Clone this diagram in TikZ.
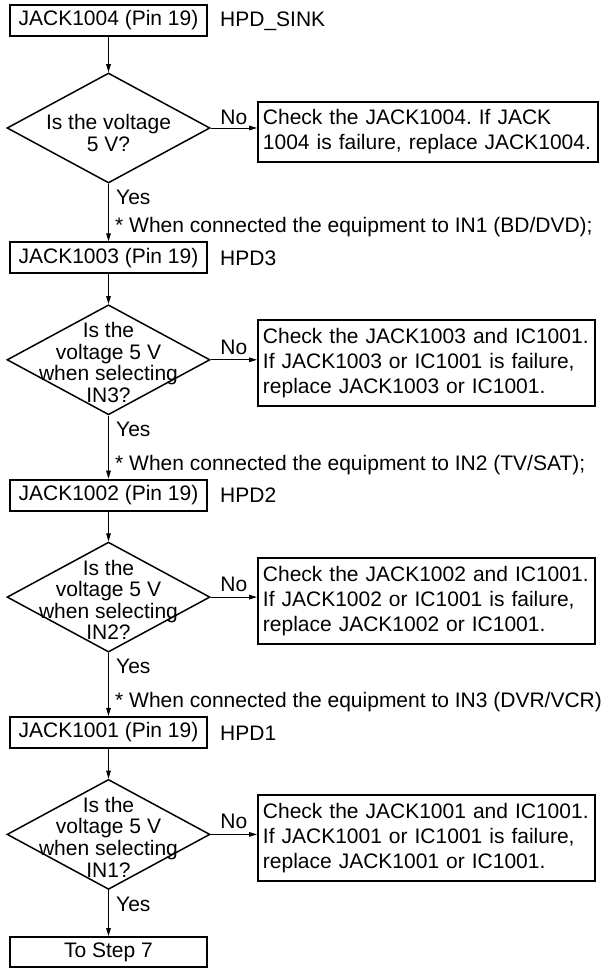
\documentclass[tikz,border=0pt]{standalone}
\usepackage{fontspec}
\setmainfont{Liberation Sans}
\usetikzlibrary{arrows.meta,positioning,shapes.geometric}
\frenchspacing

\begin{document}
\begin{tikzpicture}[x=1pt,y=-1pt,
    every node/.style={font=\fontsize{21}{25}\selectfont},
    jackbox/.style={draw,line width=1.9pt,minimum width=197pt,minimum height=31pt,inner sep=0pt},
    askshape/.style={diamond,draw,line width=1.5pt,minimum width=203pt,minimum height=110pt,inner sep=0pt},
    asktext/.style={align=center,inner sep=0pt,font=\fontsize{21}{21.6}\selectfont},
    checkbox/.style={draw,line width=1.9pt,anchor=west,align=left,inner xsep=5pt,inner ysep=0pt},
    tag/.style={anchor=west,inner sep=0pt},
    flow/.style={-{Triangle[length=8pt,width=4.6pt]},line width=0.9pt}]
    \useasboundingbox (0,0) rectangle (613,968);

    % HPD_SINK
    \node[jackbox] (j1) at (108.5,20.5) {JACK1004 (Pin 19)};
    \node[tag] (h1) at (220,21) {HPD\_SINK};
    \node[askshape] (d1) at (108.5,128) {};
    \node[asktext] (q1) at (108.5,133) {Is the voltage\\5 V?};
    \node[checkbox,text width=330pt,minimum height=60pt] (c1) at (257,132) {Check the JACK1004. If JACK\\1004 is failure, replace JACK1004.};
    \node[tag] (y1) at (116,197) {Yes};
    \node[tag] (n1) at (115,227.3) {* When connected the equipment to IN1 (BD/DVD);};

    % HPD3
    \node[jackbox] (j2) at (108.5,257.8) {JACK1003 (Pin 19)};
    \node[tag] (h2) at (220,258.3) {HPD3};
    \node[askshape] (d2) at (108.5,359.8) {};
    \node[asktext] (q2) at (108.5,362.5) {Is the\\voltage 5 V\\when selecting\\IN3?};
    \node[checkbox,text width=327pt,minimum height=86pt] (c2) at (257,363.3) {Check the JACK1003 and IC1001.\\If JACK1003 or IC1001 is failure,\\replace JACK1003 or IC1001.};
    \node[tag] (y2) at (116,429.5) {Yes};
    \node[tag] (n2) at (115,464.6) {* When connected the equipment to IN2 (TV/SAT);};

    % HPD2
    \node[jackbox] (j3) at (108.5,495.1) {JACK1002 (Pin 19)};
    \node[tag] (h3) at (220,495.6) {HPD2};
    \node[askshape] (d3) at (108.5,597.1) {};
    \node[asktext] (q3) at (108.5,599.8) {Is the\\voltage 5 V\\when selecting\\IN2?};
    \node[checkbox,text width=327pt,minimum height=86pt] (c3) at (257,600.6) {Check the JACK1002 and IC1001.\\If JACK1002 or IC1001 is failure,\\replace JACK1002 or IC1001.};
    \node[tag] (y3) at (116,666.8) {Yes};
    \node[tag] (n3) at (115,701.9) {* When connected the equipment to IN3 (DVR/VCR)};

    % HPD1
    \node[jackbox] (j4) at (108.5,732.4) {JACK1001 (Pin 19)};
    \node[tag] (h4) at (220,732.9) {HPD1};
    \node[askshape] (d4) at (108.5,834.4) {};
    \node[asktext] (q4) at (108.5,837.1) {Is the\\voltage 5 V\\when selecting\\IN1?};
    \node[checkbox,text width=327pt,minimum height=86pt] (c4) at (257,837.9) {Check the JACK1001 and IC1001.\\If JACK1001 or IC1001 is failure,\\replace JACK1001 or IC1001.};
    \node[tag] (y4) at (116,904.1) {Yes};
    \node[jackbox,minimum height=30pt] (s7) at (108.5,952) {To Step 7};

    % connectors
    \draw[flow] (j1.south) -- (d1.north);
    \draw[flow] (d1.east) -- node[above,inner sep=2.5pt] {No} (d1.east -| c1.west);
    \draw[flow] (d1.south) -- (j2.north);
    \draw[flow] (j2.south) -- (d2.north);
    \draw[flow] (d2.east) -- node[above,inner sep=5pt] {No} (d2.east -| c2.west);
    \draw[flow] (d2.south) -- (j3.north);
    \draw[flow] (j3.south) -- (d3.north);
    \draw[flow] (d3.east) -- node[above,inner sep=5pt] {No} (d3.east -| c3.west);
    \draw[flow] (d3.south) -- (j4.north);
    \draw[flow] (j4.south) -- (d4.north);
    \draw[flow] (d4.east) -- node[above,inner sep=5pt] {No} (d4.east -| c4.west);
    \draw[flow] (d4.south) -- (s7.north);
\end{tikzpicture}
\end{document}
